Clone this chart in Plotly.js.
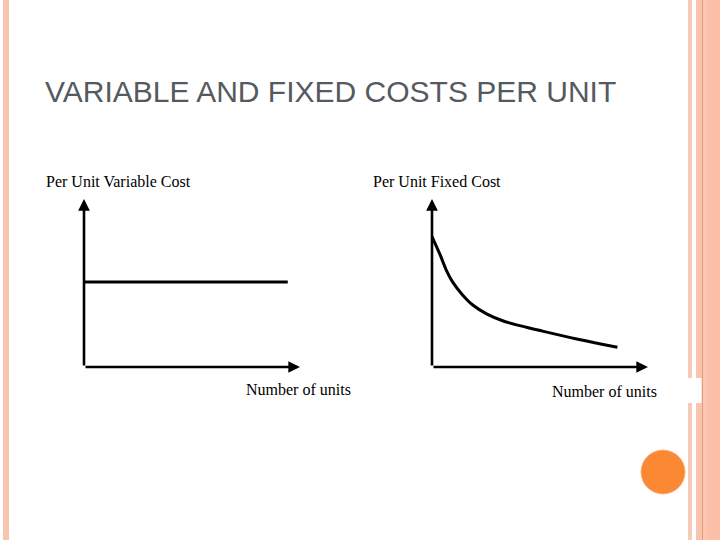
<!DOCTYPE html>
<html>
<head>
<meta charset="utf-8">
<script src="https://cdn.plot.ly/plotly-3.0.1.min.js"></script>
<style>
html,body{margin:0;padding:0;background:#fff;}
#chart{width:720px;height:540px;}
</style>
</head>
<body>
<div id="chart"></div>
<script>
// ---- data ----
const titleText = "VARIABLE AND FIXED COSTS PER UNIT";
const leftYLabel = "Per Unit Variable Cost";
const rightYLabel = "Per Unit Fixed Cost";
const xLabel = "Number of units";

const variableUnits = [0, 10];
const variableCost = [5.06, 5.06];

const fixedUnits = [0, 0.4, 0.7, 1.0, 1.5, 2.0, 2.7, 3.5, 4.3, 5.2, 7.1, 9.1];
const fixedCost = [7.76, 6.67, 5.77, 5.08, 4.29, 3.69, 3.15, 2.74, 2.46, 2.20, 1.67, 1.17];

const xMax = 10.6;
const yMax = 10;

// ---- helpers (page pixel -> paper fraction) ----
const W = 720, H = 540;
const px = x => x / W;
const py = y => 1 - y / H;

const traces = [
  {x: variableUnits, y: variableCost, xaxis: 'x', yaxis: 'y', mode: 'lines',
   line: {color: '#000', width: 3.2}, hoverinfo: 'skip', showlegend: false},
  {x: fixedUnits, y: fixedCost, xaxis: 'x2', yaxis: 'y2', mode: 'lines',
   line: {color: '#000', width: 3, shape: 'spline', smoothing: 1}, hoverinfo: 'skip', showlegend: false}
];

const axisBase = {showgrid: false, zeroline: false, showline: false, showticklabels: false,
  ticks: '', fixedrange: true};

function axisArrow(xref, yref, x, y) {
  return {xref: xref, yref: yref, x: x, y: y, axref: xref, ayref: yref, ax: 0, ay: 0,
    text: '', showarrow: true, arrowhead: 2, arrowsize: 0.9, arrowwidth: 2.6,
    arrowcolor: '#000', standoff: 0, startstandoff: 0};
}

function label(text, x, y, size, family, color) {
  return {xref: 'paper', yref: 'paper', x: px(x), y: py(y), xanchor: 'left', yanchor: 'middle',
    text: text, showarrow: false, font: {family: family, size: size, color: color}};
}

const serif = '"Liberation Serif", "Times New Roman", serif';
const sans = '"Liberation Sans", Arial, sans-serif';

const layout = {
  width: W, height: H,
  margin: {l: 0, r: 0, t: 0, b: 0},
  paper_bgcolor: '#ffffff',
  plot_bgcolor: 'rgba(0,0,0,0)',
  showlegend: false,
  xaxis: Object.assign({}, axisBase, {domain: [px(84), px(300)], range: [0, xMax], anchor: 'y'}),
  yaxis: Object.assign({}, axisBase, {domain: [py(367), py(199)], range: [0, yMax], anchor: 'x'}),
  xaxis2: Object.assign({}, axisBase, {domain: [px(432), px(648)], range: [0, xMax], anchor: 'y2'}),
  yaxis2: Object.assign({}, axisBase, {domain: [py(367), py(199)], range: [0, yMax], anchor: 'x2'}),
  shapes: [
    // slide decoration
    {type: 'rect', xref: 'paper', yref: 'paper', x0: px(3), x1: px(9), y0: 0, y1: 1,
     fillcolor: '#f8c5b0', line: {width: 0}, layer: 'below'},
    {type: 'rect', xref: 'paper', yref: 'paper', x0: px(688), x1: px(692), y0: 0, y1: 1,
     fillcolor: '#f9cab7', line: {width: 0}, layer: 'below'},
    {type: 'rect', xref: 'paper', yref: 'paper', x0: px(696), x1: px(702), y0: 0, y1: 1,
     fillcolor: '#f9c4ae', line: {width: 0}, layer: 'below'},
    {type: 'rect', xref: 'paper', yref: 'paper', x0: px(702), x1: px(703), y0: 0, y1: 1,
     fillcolor: '#e69b7b', line: {width: 0}, layer: 'below'},
    {type: 'rect', xref: 'paper', yref: 'paper', x0: px(703), x1: px(707), y0: 0, y1: 1,
     fillcolor: '#fbc7b3', line: {width: 0}, layer: 'below'},
    {type: 'rect', xref: 'paper', yref: 'paper', x0: px(707), x1: px(720), y0: 0, y1: 1,
     fillcolor: '#fcc0a9', line: {width: 0}, layer: 'below'},
    {type: 'rect', xref: 'paper', yref: 'paper', x0: px(687), x1: px(701.5), y0: py(403), y1: py(378),
     fillcolor: '#ffffff', line: {width: 0}, layer: 'below'},
    {type: 'circle', xref: 'paper', yref: 'paper', x0: px(641), x1: px(685), y0: py(494), y1: py(450),
     fillcolor: '#fb8833', line: {width: 0.8, color: '#fcae6e'}, layer: 'below'}
  ],
  annotations: [
    label(titleText, 43, 91, 30, sans, '#555a60'),
    label(leftYLabel, 44, 181, 16, serif, '#000'),
    label(xLabel, 244, 389, 16, serif, '#000'),
    label(rightYLabel, 371, 181, 16, serif, '#000'),
    label(xLabel, 550, 391, 16, serif, '#000'),
    axisArrow('x', 'y', 0, yMax),
    axisArrow('x', 'y', xMax, 0),
    axisArrow('x2', 'y2', 0, yMax),
    axisArrow('x2', 'y2', xMax, 0)
  ]
};

Plotly.newPlot('chart', traces, layout, {staticPlot: true, displayModeBar: false});
</script>
</body>
</html>
